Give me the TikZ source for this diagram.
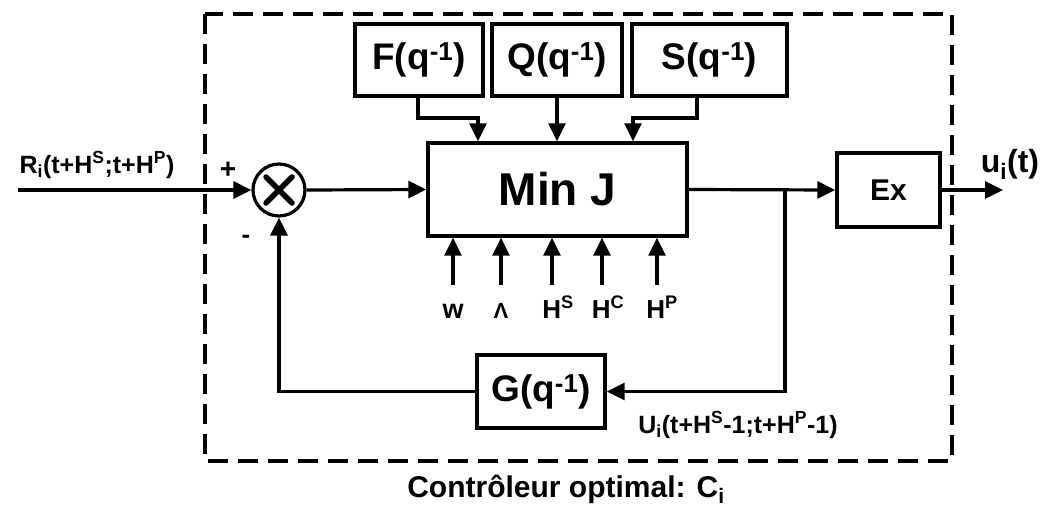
\documentclass[tikz,border=0pt]{standalone}
\usepackage{fontspec}
\setmainfont{Liberation Sans}
\usetikzlibrary{arrows.meta,calc}
\newcommand{\fsz}[1]{\fontsize{#1}{#1}\selectfont}
\begin{document}
\begin{tikzpicture}[x=1pt,y=-1pt,
  blk/.style={draw,line width=3.4pt,inner sep=0pt,font=\fsz{37}\bfseries},
  wire/.style={line width=3.2pt},
  arr/.style={wire,-{Triangle[length=18pt,width=17pt]}},
  lab/.style={inner sep=0pt,anchor=base},
  frame/.style={line width=3.8pt,dash pattern=on 20pt off 10pt}]
\useasboundingbox (0,0) rectangle (1046,507);
% frame
\draw[frame] (205,14) rectangle (952,461);
% blocks
\node[blk,minimum width=128pt,minimum height=72pt] (F) at (419,60) {F(q\textsuperscript{-1})};
\node[blk,minimum width=130pt,minimum height=72pt] (Q) at (557,60) {Q(q\textsuperscript{-1})};
\node[blk,minimum width=155pt,minimum height=72pt] (S) at (709.5,60) {S(q\textsuperscript{-1})};
\node[blk,minimum width=259pt,minimum height=93pt,font=\fsz{46}\bfseries] (M) at (557.5,189.5) {Min J};
\node[blk,minimum width=103pt,minimum height=74pt,font=\fsz{30}\bfseries] (E) at (888.5,190) {Ex};
\node[blk,minimum width=128pt,minimum height=73pt] (G) at (541,391.5) {G(q\textsuperscript{-1})};
\node[draw,circle,line width=3.2pt,minimum size=52pt,inner sep=0pt] (X) at (279,190) {};
\draw[line width=5.5pt,line cap=round] ($(X)+(-13,-13)$) -- ($(X)+(13,13)$) ($(X)+(-13,13)$) -- ($(X)+(13,-13)$);
% coordinates
\coordinate (in) at (18,190);
\coordinate (out) at (1003,190);
\coordinate (br) at (785,190);
\coordinate (fb) at (418,96);
\coordinate (fk) at (478,118);
\coordinate (sb) at (697,96);
\coordinate (sk) at (633,118);
% main path
\draw[arr] (in) -- (X.west);
\draw[arr] (X.east) -- (M.west);
\draw[arr] (M.east) -- (E.west);
\draw[arr] (E.east) -- (out);
\draw[arr] (br) |- (G.east);
\draw[arr] (G.west) -| (X.south);
% top inputs
\draw[arr] (fb) |- (fk) -- (fk |- M.north);
\draw[arr] (Q.south) -- (Q.south |- M.north);
\draw[arr] (sb) |- (sk) -- (sk |- M.north);
% bottom inputs
\node[lab,font=\fsz{27}\bfseries] (lw) at (453,318) {w};
\node[lab,font=\fsz{22}\bfseries] (ll) at (501,318) {Λ};
\node[lab,font=\fsz{26}\bfseries] (ls) at (558,318) {H\textsuperscript{S}};
\node[lab,font=\fsz{26}\bfseries] (lc) at (608,318) {H\textsuperscript{C}};
\node[lab,font=\fsz{26}\bfseries] (lp) at (662,318) {H\textsuperscript{P}};
\coordinate (aw) at (453,285);
\coordinate (al) at (501,285);
\coordinate (as) at (552,285);
\coordinate (ac) at (602,285);
\coordinate (ap) at (657,285);
\draw[arr] (aw) -- (aw |- M.south);
\draw[arr] (al) -- (al |- M.south);
\draw[arr] (as) -- (as |- M.south);
\draw[arr] (ac) -- (ac |- M.south);
\draw[arr] (ap) -- (ap |- M.south);
% labels
\node[lab,font=\fsz{25}\bfseries] (r) at (97,173) {R\textsubscript{i}(t+H\textsuperscript{S};t+H\textsuperscript{P})};
\node[lab,font=\fsz{28}\bfseries] (plus) at (228,178) {+};
\node[lab,font=\fsz{26}\bfseries] (minus) at (246,243) {-};
\node[lab,font=\fsz{32}\bfseries] (u) at (1010,172) {u\textsubscript{i}(t)};
\node[lab,font=\fsz{25}\bfseries] (U) at (738,433) {U\textsubscript{i}(t+H\textsuperscript{S}-1;t+H\textsuperscript{P}-1)};
\node[lab,font=\fsz{30}\bfseries] (cap) at (566,497) {Contrôleur optimal: C\textsubscript{i}};
\end{tikzpicture}
\end{document}
